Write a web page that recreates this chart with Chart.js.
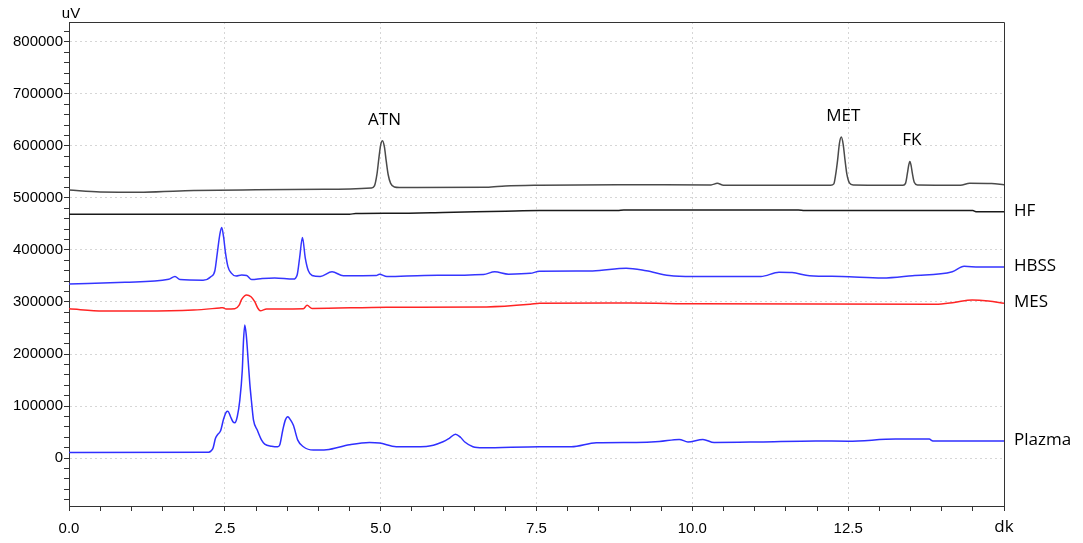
<!DOCTYPE html>
<html><head><meta charset="utf-8">
<script src="https://cdn.jsdelivr.net/npm/chart.js@4/dist/chart.umd.min.js"></script>
<style>html,body{margin:0;padding:0;background:#fff;overflow:hidden}canvas{display:block}</style>
</head><body>
<canvas id="c" width="1083" height="543"></canvas>
<script>
// ---- data (time in minutes "dk", signal in uV) ----
const sampleTrace = [[0,515000],[0.5,511500],[1.2,511000],[2.0,514000],[3.0,515500],[4.1,516500],[4.85,519000],[4.9,523000],[4.94,545000],[4.97,575000],[5.0,602000],[5.03,610000],[5.06,598000],[5.09,570000],[5.12,545000],[5.16,528000],[5.22,521000],[5.3,520000],[6.7,520500],[7.0,523000],[7.55,524500],[8.8,525500],[10.3,525000],[10.4,528000],[10.5,524500],[12.22,524500],[12.27,527000],[12.3,545000],[12.33,572000],[12.36,605000],[12.39,617000],[12.42,603000],[12.45,572000],[12.48,545000],[12.52,529000],[12.58,525000],[13.38,524500],[13.42,528000],[13.45,547000],[13.47,562000],[13.49,570000],[13.51,562000],[13.53,547000],[13.56,530000],[13.61,525000],[14.3,524500],[14.45,528000],[14.8,527500],[15,525500]];
const hfTrace = [[0,468600],[4.5,468600],[4.6,470000],[5.2,470500],[6.0,472000],[7.0,474500],[7.55,475600],[8.8,475600],[8.9,477000],[11.7,477000],[11.8,475600],[14.5,475600],[14.55,473500],[15,473500]];
const hbssTrace = [[0,334500],[0.9,338000],[1.6,343500],[1.7,349000],[1.78,343000],[2.15,342000],[2.28,349000],[2.34,360000],[2.38,395000],[2.42,430000],[2.45,443000],[2.48,425000],[2.51,395000],[2.55,368000],[2.6,356000],[2.68,350000],[2.77,352000],[2.85,351000],[2.93,343000],[3.1,345000],[3.3,346000],[3.6,344000],[3.66,352000],[3.7,385000],[3.745,424000],[3.79,385000],[3.84,360000],[3.9,351000],[4.03,349000],[4.22,358000],[4.4,350500],[4.93,351000],[4.98,353500],[5.1,349000],[5.7,351000],[6.65,353000],[6.83,358000],[7.05,353500],[7.4,355000],[7.55,359000],[8.4,359500],[8.94,365000],[9.26,360000],[9.63,351000],[10.0,349000],[11.1,349000],[11.39,357000],[11.6,356500],[11.88,350500],[12.4,349000],[13.05,346000],[13.53,350500],[14.17,358000],[14.36,368500],[14.6,367000],[15,367000]];
const mesTrace = [[0,287000],[0.55,282700],[1.2,282500],[2.0,284600],[2.42,288500],[2.47,289000],[2.52,286500],[2.66,287000],[2.73,294000],[2.77,305000],[2.85,313500],[2.92,310000],[2.98,300500],[3.03,288000],[3.07,283000],[3.17,286500],[3.76,287000],[3.82,293500],[3.9,287500],[5.1,290000],[6.7,290500],[7.4,295500],[7.55,297500],[9.0,298000],[10.06,296500],[13.9,295500],[14.2,299000],[14.49,304000],[14.75,302000],[15,297500]];
const plazmaTrace = [[0,11000],[2.24,11500],[2.28,14000],[2.31,19000],[2.35,38000],[2.39,46000],[2.43,52000],[2.48,75000],[2.52,88000],[2.55,90000],[2.59,80000],[2.63,70000],[2.66,68000],[2.7,80000],[2.74,111000],[2.78,169000],[2.8,227000],[2.82,256000],[2.845,235000],[2.874,188000],[2.9,144000],[2.93,106000],[2.96,73000],[3.02,54000],[3.09,34600],[3.14,27000],[3.25,23000],[3.35,21800],[3.38,25000],[3.43,54000],[3.47,73000],[3.51,79500],[3.55,74000],[3.6,63000],[3.67,34600],[3.76,21800],[3.92,15400],[4.13,16000],[4.5,25600],[4.82,30000],[4.98,29000],[5.25,21800],[5.73,22400],[6.0,31400],[6.1,38000],[6.2,46000],[6.28,40000],[6.35,31000],[6.48,22000],[6.64,19900],[7.55,22000],[8.06,21800],[8.46,29500],[9.1,30000],[9.47,32000],[9.79,36000],[9.93,31000],[10.17,36000],[10.35,30000],[11.07,31000],[11.98,33000],[12.5,32500],[13.26,36500],[13.8,36500],[13.86,33000],[15,33000]];

const traceNames = ['', 'HF', 'HBSS', 'MES', 'Plazma'];
const peakNames = ['ATN', 'MET', 'FK'];
const peakTimes = [5.03, 12.39, 13.49];
const xMajorLabels = ['0.0', '2.5', '5.0', '7.5', '10.0', '12.5'];
const yMajorLabels = ['0', '100000', '200000', '300000', '400000', '500000', '600000', '700000', '800000'];
const xUnit = 'dk';
const yUnit = 'uV';

// ---- chart ----
const traceColors = ['#4a4a4a', '#1a1a1a', '#3535ff', '#ff2424', '#2f2fff'];
const traces = [sampleTrace, hfTrace, hbssTrace, mesTrace, plazmaTrace];

const GRID = '#d6d6d6';
const AXIS = '#333333';
const tickFont = { family: '"Liberation Sans", Arial, sans-serif', size: 15 };
const labelFont = '17px "Open Sans", "Noto Sans", sans-serif';

const isMajorX = v => Math.abs(v / 2.5 - Math.round(v / 2.5)) < 1e-6;

const overlay = {
  id: 'overlay',
  afterDraw(chart) {
    const { ctx, chartArea: a, scales: { x, y } } = chart;
    ctx.save();
    ctx.strokeStyle = AXIS;
    ctx.lineWidth = 1;
    ctx.beginPath();
    ctx.moveTo(Math.round(a.left) + 0.5, Math.round(a.top) + 0.5);
    ctx.lineTo(Math.round(a.right) + 0.5, Math.round(a.top) + 0.5);
    ctx.lineTo(Math.round(a.right) + 0.5, Math.round(a.bottom) + 0.5);
    ctx.stroke();

    ctx.fillStyle = '#000';
    // axis units
    ctx.font = '15px "Liberation Sans", Arial, sans-serif';
    ctx.textAlign = 'center';
    ctx.textBaseline = 'alphabetic';
    ctx.fillText(yUnit, a.left + 2, 18);
    ctx.font = labelFont;
    ctx.textBaseline = 'middle';
    ctx.fillText(xUnit, x.getPixelForValue(15), 527);

    // peak names above the sample trace peaks
    peakNames.forEach((n, i) => {
      const t = peakTimes[i];
      let top = -Infinity;
      sampleTrace.forEach(p => { if (Math.abs(p[0] - t) < 0.1) top = Math.max(top, p[1]); });
      ctx.fillText(n, x.getPixelForValue(t) + 2, y.getPixelForValue(top) - 21);
    });

    // trace names at the right edge
    ctx.textAlign = 'left';
    traces.forEach((tr, i) => {
      if (!traceNames[i]) return;
      const last = tr[tr.length - 1][1];
      ctx.fillText(traceNames[i], a.right + 10, y.getPixelForValue(last) - 1);
    });
    ctx.restore();
  }
};

new Chart(document.getElementById('c'), {
  type: 'line',
  data: {
    datasets: traces.map((tr, i) => ({
      label: traceNames[i] || 'Sample',
      data: tr,
      borderColor: traceColors[i],
      borderWidth: 1.5,
      pointRadius: 0,
      fill: false,
      cubicInterpolationMode: 'monotone',
      tension: 0.4
    }))
  },
  options: {
    responsive: false,
    animation: false,
    events: [],
    layout: { padding: { top: 22, right: 79, left: 0, bottom: 0 } },
    plugins: { legend: { display: false }, tooltip: { enabled: false } },
    scales: {
      x: {
        type: 'linear',
        min: 0, max: 15,
        afterFit: s => { s.height = 37; },
        afterBuildTicks: s => {
          const t = [];
          for (let i = 0; i <= 30; i++) t.push({ value: i * 0.5 });
          s.ticks = t;
        },
        ticks: {
          autoSkip: false, maxRotation: 0, padding: 9,
          color: '#000', font: tickFont,
          callback: v => (isMajorX(v) ? (xMajorLabels[Math.round(v / 2.5)] || '') : '')
        },
        grid: {
          color: c => (c.tick && isMajorX(c.tick.value) && c.tick.value > 0 && c.tick.value < 15) ? GRID : 'rgba(0,0,0,0)',
          tickColor: AXIS, tickLength: 5, lineWidth: 1
        },
        border: { display: true, color: AXIS, width: 1, dash: [2, 3] }
      },
      y: {
        type: 'linear',
        min: -92000, max: 838000,
        afterFit: s => { s.width = 69; },
        afterBuildTicks: s => {
          const t = [];
          for (let v = -80000; v <= 820000; v += 20000) t.push({ value: v });
          s.ticks = t;
        },
        ticks: {
          autoSkip: false, padding: 1,
          color: '#000', font: tickFont,
          callback: v => (v % 100000 === 0 && v >= 0 ? (yMajorLabels[v / 100000] || '') : '')
        },
        grid: {
          color: c => (c.tick && c.tick.value % 100000 === 0 && c.tick.value >= 0) ? GRID : 'rgba(0,0,0,0)',
          tickColor: AXIS, tickLength: 5, lineWidth: 1
        },
        border: { display: true, color: AXIS, width: 1, dash: [2, 3] }
      }
    }
  },
  plugins: [overlay]
});
</script>
</body></html>
